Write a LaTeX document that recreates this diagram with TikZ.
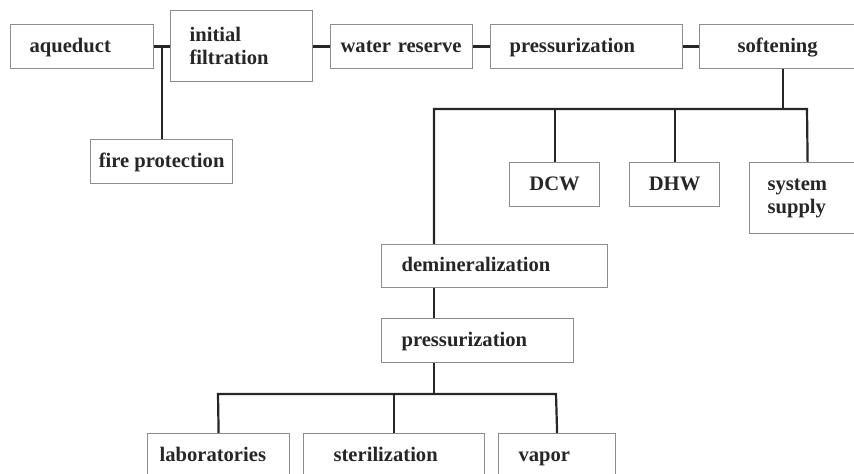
\documentclass[tikz,border=0pt]{standalone}
\usepackage{fontspec}
\setmainfont{Liberation Serif}
\begin{document}
\begin{tikzpicture}[x=0.5pt,y=-0.5pt,
  unit/.style={draw=black!45,line width=0.6pt,anchor=north west,align=left,inner ysep=0pt,minimum height=22pt,text height=7.5pt,text depth=2pt,text=black!85,font=\bfseries\fontsize{10.3}{11.5}\selectfont},
  twoline/.style={unit,text height={},text depth={},minimum height=35.5pt},
  wire/.style={line width=1.1pt,black!85}]
\useasboundingbox (0,0) rectangle (854,474);
\clip (0,0) rectangle (854,474);
\node[unit,text width=52.5pt,inner xsep=9.5pt] (aqueduct) at (10,24) {aqueduct};
\node[twoline,text width=52pt,inner xsep=9.5pt] (initial) at (170,10) {initial\\filtration};
\node[unit,text width=61pt,inner xsep=5pt] (reserve) at (330,24) {water reserve};
\node[unit,text width=77pt,inner xsep=9.5pt] (press) at (490,24) {pressurization};
\node[unit,text width=45pt,inner xsep=19pt] (soft) at (699,24) {softening};
\node[unit,minimum width=71pt] (fire) at (90,139) {fire protection};
\node[unit,minimum width=45pt] (dcw) at (509,162) {DCW};
\node[unit,minimum width=45pt] (dhw) at (629,162) {DHW};
\node[twoline,text width=40pt,inner xsep=9pt] (supply) at (749,162) {system\\supply};
\node[unit,text width=93pt,inner xsep=10pt,minimum height=21.5pt] (demin) at (381,244) {demineralization};
\node[unit,text width=76pt,inner xsep=10pt] (press2) at (381,318) {pressurization};
\node[unit,text width=59pt,inner xsep=6pt] (lab) at (147,433) {laboratories};
\node[unit,text width=60.5pt,inner xsep=15pt] (steril) at (303,433) {sterilization};
\node[unit,text width=38.5pt,inner xsep=10pt] (vapor) at (498,433) {vapor};
\coordinate (busA) at (434,109);
\coordinate (busB) at (807,109);
\coordinate (busC) at (218,394);
\coordinate (busD) at (556,394);
\draw[wire] (aqueduct.east) -- (aqueduct.east -| initial.west);
\draw[wire] (fire.north |- aqueduct.east) -- (fire.north);
\draw[wire] (initial.east |- reserve.west) -- (reserve.west);
\draw[wire] (reserve.east) -- (press.west);
\draw[wire] (press.east) -- (soft.west);
\draw[wire] (soft.south) -- (soft.south |- busA);
\draw[wire] (busA |- demin.north) -- (busA) -- (busB) -- (supply.north);
\draw[wire] (dcw.north) -- (dcw.north |- busA);
\draw[wire] (dhw.north) -- (dhw.north |- busA);
\draw[wire] (busA |- demin.south) -- (busA |- press2.north);
\draw[wire] (busA |- press2.south) -- (busA |- busC);
\draw[wire] (lab.north) -- (busC) -- (busD) -- (vapor.north);
\draw[wire] (steril.north) -- (steril.north |- busC);
\end{tikzpicture}
\end{document}
